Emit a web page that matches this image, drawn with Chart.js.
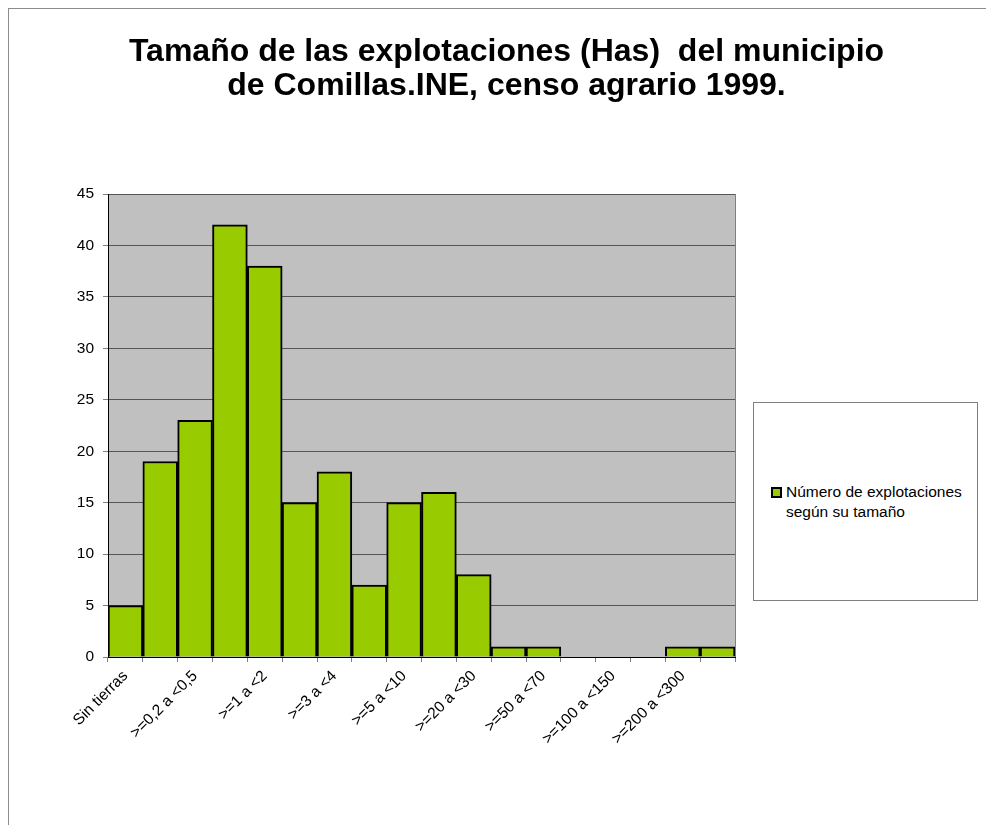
<!DOCTYPE html>
<html>
<head>
<meta charset="utf-8">
<script src="https://cdn.jsdelivr.net/npm/chart.js@4.4.0/dist/chart.umd.min.js"></script>
<style>
    body { margin: 0; background: #fff; font-family: "Liberation Sans", Arial, sans-serif; }
    #frame { position: absolute; left: 8px; top: 8px; width: 990px; height: 830px; border-top: 1px solid #8c8c8c; border-left: 1px solid #8c8c8c; }
    #title { position: absolute; left: 0; top: 33px; width: 1013px; text-align: center; font-weight: bold; font-size: 32px; line-height: 34px; white-space: pre; color: #000; }
    #wrap { position: absolute; left: 0; top: 0; width: 986px; height: 825px; }
    #legend { position: absolute; left: 753px; top: 402px; width: 223px; height: 197px; border: 1px solid #808080; background: #fff; }
    #legend .sw { position: absolute; left: 17px; top: 84px; width: 7px; height: 7px; background: #99cc00; border: 2px solid #000; }
    #legend .tx { position: absolute; left: 32px; top: 79px; font-size: 15.5px; line-height: 20px; color: #000; white-space: nowrap; }
</style>
</head>
<body>
<div id="frame"></div>
<div id="wrap"><canvas id="chart"></canvas></div>
<div id="title">Tamaño de las explotaciones (Has)  del municipio
de Comillas.INE, censo agrario 1999.</div>
<div id="legend"><div class="sw"></div><div class="tx">Número de explotaciones<br>según su tamaño</div></div>
<script>
(function () {
    "use strict";

    const categories = [
        'Sin tierras', '>=0,1 a <0,2', '>=0,2 a <0,5', '>=0,5 a <1',
        '>=1 a <2', '>=2 a <3', '>=3 a <4', '>=4 a <5',
        '>=5 a <10', '>=10 a <20', '>=20 a <30', '>=30 a <50',
        '>=50 a <70', '>=70 a <100', '>=100 a <150', '>=150 a <200',
        '>=200 a <300', '>=300'
    ];
    const explotaciones = [5, 19, 23, 42, 38, 15, 18, 7, 15, 16, 8, 1, 1, 0, 0, 0, 1, 1];
    const yTicks = [0, 5, 10, 15, 20, 25, 30, 35, 40, 45];

    /* grey plot area */
    const plotBg = {
        id: 'plotBg',
        beforeDraw(chart) {
            const a = chart.chartArea, ctx = chart.ctx;
            ctx.save();
            ctx.fillStyle = '#c0c0c0';
            ctx.fillRect(a.left, a.top, a.right - a.left, a.bottom - a.top);
            ctx.strokeStyle = '#808080';
            ctx.lineWidth = 1;
            ctx.beginPath();
            ctx.moveTo(a.right + 0.5, a.top);
            ctx.lineTo(a.right + 0.5, a.bottom);
            ctx.stroke();
            ctx.restore();
        }
    };

    const config = {
        type: 'bar',
        data: {
            labels: categories,
            datasets: [{
                label: 'Número de explotaciones según su tamaño',
                data: explotaciones,
                backgroundColor: '#99cc00',
                borderColor: '#000',
                borderWidth: 2,
                barPercentage: 1,
                categoryPercentage: 1
            }]
        },
        options: {
            responsive: true,
            maintainAspectRatio: false,
            animation: false,
            layout: { padding: { left: 68, right: 251, top: 194, bottom: 0 } },
            plugins: {
                legend: { display: false },
                tooltip: { enabled: false }
            },
            scales: {
                x: {
                    afterFit(scale) { scale.height = 168; },
                    grid: {
                        offset: true,
                        drawOnChartArea: false,
                        drawTicks: true,
                        tickLength: 5,
                        color: '#808080'
                    },
                    border: { color: '#000', width: 1 },
                    ticks: {
                        autoSkip: false,
                        minRotation: 45,
                        maxRotation: 45,
                        padding: 5,
                        color: '#000',
                        font: { family: 'Liberation Sans', size: 15.5 },
                        callback: function (v, i) { return i % 2 === 0 ? categories[i] : ''; }
                    }
                },
                y: {
                    min: 0,
                    max: 45,
                    afterFit(scale) { scale.width = 40; },
                    afterBuildTicks(scale) { scale.ticks = yTicks.map(v => ({ value: v })); },
                    grid: { color: '#555', tickLength: 5, tickColor: '#808080' },
                    border: { color: '#000', width: 1 },
                    ticks: {
                        color: '#000',
                        padding: 9,
                        font: { family: 'Liberation Sans', size: 15.5 }
                    }
                }
            }
        },
        plugins: [plotBg]
    };

    const myChart = new Chart(document.getElementById('chart'), config);
})();
</script>
</body>
</html>
